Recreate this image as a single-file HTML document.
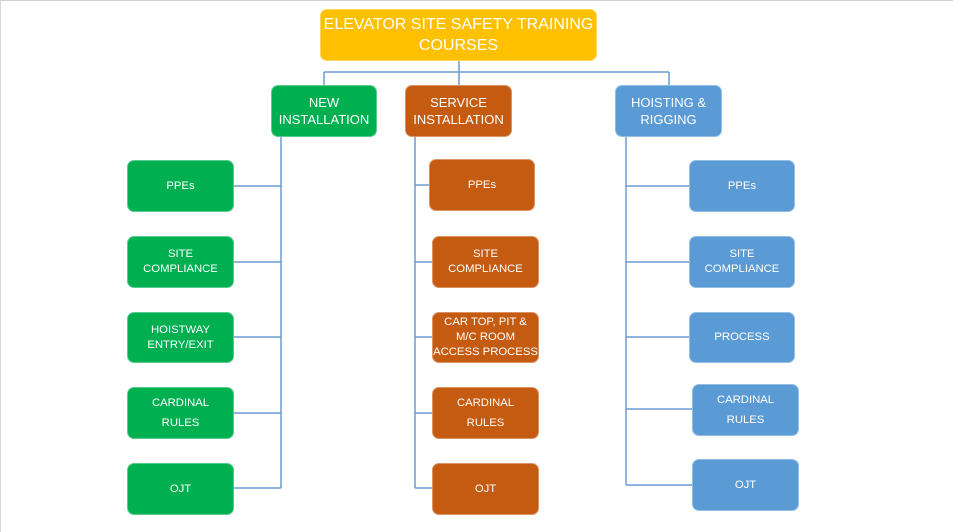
<!DOCTYPE html>
<html>
<head>
<meta charset="utf-8">
<style>
  html,body{margin:0;padding:0;}
  body{width:953px;height:532px;position:relative;overflow:hidden;background:#fff;font-family:"Liberation Sans",Arial,sans-serif;}
  .frame{position:absolute;left:0;top:0;width:953px;height:532px;box-sizing:border-box;border-top:1px solid #d0d0d0;border-left:1px solid #d8d8d8;}
  .b{position:absolute;box-sizing:border-box;border-radius:7px;color:#fff;display:flex;align-items:center;justify-content:center;text-align:center;border:1px solid rgba(255,255,255,0.35);}
  .g{background:#00B050;}
  .o{background:#C55A11;}
  .bl{background:#5B9BD5;}
  .y{background:#FFC000;}
  .t{font-size:16px;line-height:21px;}
  .l2{font-size:13px;line-height:17px;}
  .c{font-size:11.3px;line-height:15px;}
  .c2{font-size:11.3px;line-height:20px;}
  svg{position:absolute;left:0;top:0;}
</style>
</head>
<body>
<div class="frame"></div>
<svg width="953" height="532" viewBox="0 0 953 532">
  <g stroke="#6C9BD2" stroke-width="1.5" fill="none">
    <line x1="459" y1="61" x2="459" y2="85"/>
    <line x1="324" y1="72" x2="669" y2="72"/>
    <line x1="324" y1="72" x2="324" y2="85"/>
    <line x1="669" y1="72" x2="669" y2="85"/>
    <!-- new installation -->
    <line x1="281" y1="137" x2="281" y2="488"/>
    <line x1="234" y1="186" x2="281" y2="186"/>
    <line x1="234" y1="262" x2="281" y2="262"/>
    <line x1="234" y1="337" x2="281" y2="337"/>
    <line x1="234" y1="413" x2="281" y2="413"/>
    <line x1="234" y1="488" x2="281" y2="488"/>
    <!-- service -->
    <line x1="415" y1="137" x2="415" y2="488"/>
    <line x1="415" y1="185" x2="429" y2="185"/>
    <line x1="415" y1="262" x2="432" y2="262"/>
    <line x1="415" y1="337" x2="432" y2="337"/>
    <line x1="415" y1="413" x2="432" y2="413"/>
    <line x1="415" y1="488" x2="432" y2="488"/>
    <!-- hoisting -->
    <line x1="626" y1="137" x2="626" y2="485"/>
    <line x1="626" y1="186" x2="689" y2="186"/>
    <line x1="626" y1="262" x2="689" y2="262"/>
    <line x1="626" y1="337" x2="689" y2="337"/>
    <line x1="626" y1="409" x2="692" y2="409"/>
    <line x1="626" y1="485" x2="692" y2="485"/>
  </g>
</svg>

<div class="b y t" style="left:320px;top:9px;width:277px;height:52px;">ELEVATOR SITE SAFETY TRAINING<br>COURSES</div>

<div class="b g l2" style="left:271px;top:85px;width:106px;height:52px;">NEW<br>INSTALLATION</div>
<div class="b o l2" style="left:405px;top:85px;width:107px;height:52px;">SERVICE<br>INSTALLATION</div>
<div class="b bl l2" style="left:615px;top:85px;width:107px;height:52px;">HOISTING &amp;<br>RIGGING</div>

<!-- green column -->
<div class="b g c" style="left:127px;top:160px;width:107px;height:52px;">PPEs</div>
<div class="b g c" style="left:127px;top:236px;width:107px;height:52px;">SITE<br>COMPLIANCE</div>
<div class="b g c" style="left:127px;top:312px;width:107px;height:51px;">HOISTWAY<br>ENTRY/EXIT</div>
<div class="b g c2" style="left:127px;top:387px;width:107px;height:52px;">CARDINAL<br>RULES</div>
<div class="b g c" style="left:127px;top:463px;width:107px;height:52px;">OJT</div>

<!-- orange column -->
<div class="b o c" style="left:429px;top:159px;width:106px;height:52px;">PPEs</div>
<div class="b o c" style="left:432px;top:236px;width:107px;height:52px;">SITE<br>COMPLIANCE</div>
<div class="b o c" style="left:432px;top:312px;width:107px;height:51px;">CAR TOP, PIT &amp;<br>M/C ROOM<br>ACCESS PROCESS</div>
<div class="b o c2" style="left:432px;top:387px;width:107px;height:52px;">CARDINAL<br>RULES</div>
<div class="b o c" style="left:432px;top:463px;width:107px;height:52px;">OJT</div>

<!-- blue column -->
<div class="b bl c" style="left:689px;top:160px;width:106px;height:52px;">PPEs</div>
<div class="b bl c" style="left:689px;top:236px;width:106px;height:52px;">SITE<br>COMPLIANCE</div>
<div class="b bl c" style="left:689px;top:312px;width:106px;height:51px;">PROCESS</div>
<div class="b bl c2" style="left:692px;top:384px;width:107px;height:52px;">CARDINAL<br>RULES</div>
<div class="b bl c" style="left:692px;top:459px;width:107px;height:52px;">OJT</div>
</body>
</html>
